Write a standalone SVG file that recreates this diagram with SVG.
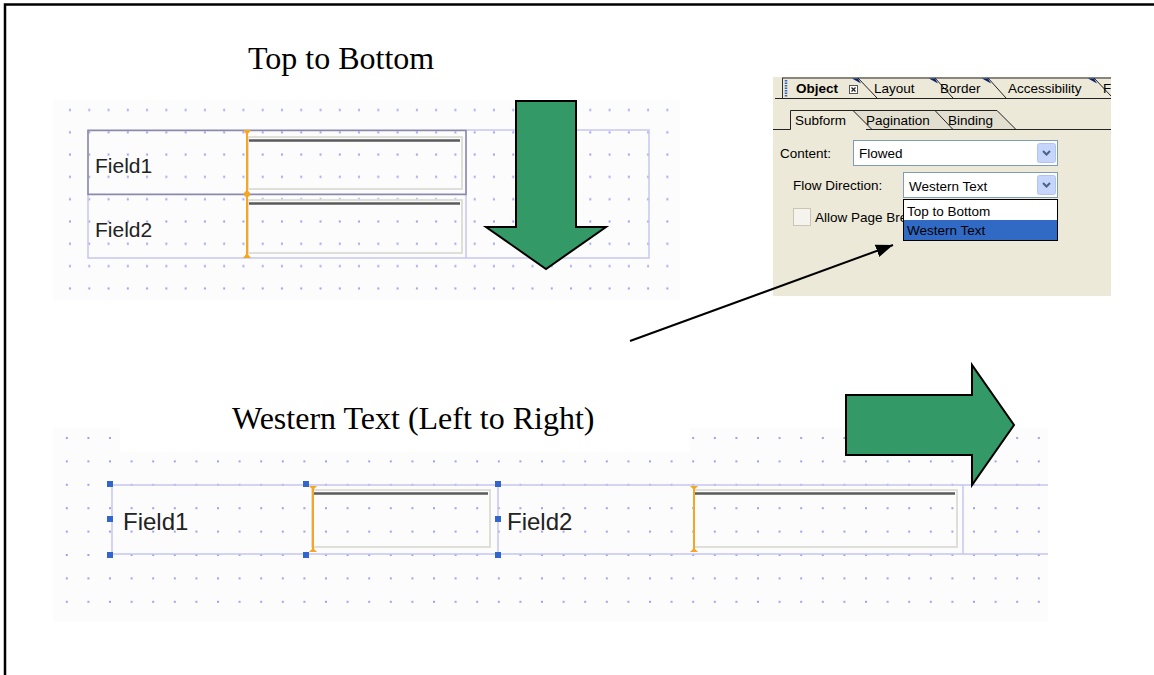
<svg xmlns="http://www.w3.org/2000/svg" width="1154" height="675" viewBox="0 0 1154 675">
<style>
  .title { font-family: "Liberation Serif", "Times New Roman", serif; font-size: 32px; fill: #000; }
  .fld { font-family: "Liberation Sans", Arial, sans-serif; fill: #222; }
  .ui { font-family: "Liberation Sans", Tahoma, sans-serif; font-size: 13.5px; fill: #000; }
  .lav { fill: none; stroke: #c6c6f2; stroke-width: 1.5; }
  .inbox { fill: none; stroke: #dcdcd6; stroke-width: 1.8; }
  .intop { stroke: #5a5a5a; stroke-width: 2.5; }
  .big-arrow { fill: #339966; stroke: #000; stroke-width: 2; stroke-linejoin: miter; }
  .orange { stroke: #f5a623; stroke-width: 2; }
  .orange-fill { fill: #f5a623; }
  .handle { fill: #3366cc; }
  .tab { fill: none; stroke: #222; stroke-width: 1; }
  .drop { fill: #fff; stroke: #7f9db9; stroke-width: 1; }
  .dbtn { fill: #c6d5fb; stroke: #b2c4ee; stroke-width: 1; }
  .chev { fill: none; stroke: #4d6185; stroke-width: 2; }
</style>
<defs>
  <pattern id="dotsTop" patternUnits="userSpaceOnUse" x="60.4" y="98.85" width="19.27" height="22.3">
    <rect x="8.6" y="10.15" width="2" height="2" fill="#a0a0f2"/>
  </pattern>
  <pattern id="dotsBottom" patternUnits="userSpaceOnUse" x="56" y="426.3" width="21.6" height="23.4">
    <rect x="9.8" y="10.7" width="2" height="2" fill="#a0a0f2"/>
  </pattern>
  <marker id="arrowHead" markerWidth="17" markerHeight="13" refX="17" refY="6.5" orient="auto" markerUnits="userSpaceOnUse">
    <path d="M0,0 L17,6.5 L0,13 z" fill="#000"/>
  </marker>
  <clipPath id="panelClip"><rect x="773" y="77" width="338" height="219"/></clipPath>
</defs>

<!-- page frame -->
<path d="M5,675 V4.5 H1154" fill="none" stroke="#000" stroke-width="2.5"/>

<!-- upper form: top-to-bottom flow -->
<g id="top-form">
  <rect x="53" y="100" width="627" height="200" fill="#fcfcfc"/>
  <rect x="56" y="100" width="624" height="200" fill="url(#dotsTop)"/>
  <rect class="lav" x="88" y="130" width="561" height="128"/>
  <line class="lav" x1="466" y1="130" x2="466" y2="258"/>
  <line class="lav" x1="88" y1="194" x2="466" y2="194"/>
  <rect x="88" y="130.5" width="378" height="64" fill="none" stroke="#8a8aa6" stroke-width="1.5"/>
  <rect class="inbox" x="248" y="137" width="214" height="52"/>
  <line class="intop" x1="249" y1="140.5" x2="460" y2="140.5"/>
  <rect class="inbox" x="248" y="200" width="214" height="53"/>
  <line class="intop" x1="249" y1="203.5" x2="460" y2="203.5"/>
  <line class="orange" x1="247" y1="130" x2="247" y2="258"/>
  <path class="orange-fill" d="M243,130 h8 l-4,5 z M243,258 h8 l-4,-5 z"/>
  <circle class="orange-fill" cx="247" cy="194" r="3"/>
  <text class="fld" x="95" y="173" font-size="21">Field1</text>
  <text class="fld" x="95" y="237" font-size="21">Field2</text>
</g>

<!-- lower form: western text (left to right) flow -->
<g id="bottom-form">
  <rect x="53" y="428" width="995" height="194" fill="#fcfcfc"/>
  <rect x="56" y="428" width="992" height="194" fill="url(#dotsBottom)"/>
  <rect x="120" y="400" width="570" height="52" fill="#fff"/>
  <line class="lav" x1="110" y1="485" x2="1048" y2="485"/>
  <line class="lav" x1="110" y1="554" x2="1048" y2="554"/>
  <line class="lav" x1="112" y1="485" x2="112" y2="554"/>
  <line class="lav" x1="498" y1="485" x2="498" y2="554"/>
  <line class="lav" x1="963" y1="485" x2="963" y2="554"/>
  <rect class="inbox" x="312" y="490" width="178" height="57"/>
  <line class="intop" x1="313" y1="493.5" x2="488" y2="493.5"/>
  <rect class="inbox" x="694" y="490" width="263" height="57"/>
  <line class="intop" x1="695" y1="493.5" x2="955" y2="493.5"/>
  <line class="orange" x1="313" y1="486" x2="313" y2="552"/>
  <path class="orange-fill" d="M309,486 h8 l-4,4 z M309,552 h8 l-4,-4 z"/>
  <line class="orange" x1="694" y1="486" x2="694" y2="552"/>
  <path class="orange-fill" d="M690,486 h8 l-4,4 z M690,552 h8 l-4,-4 z"/>
  <rect class="handle" x="107" y="481" width="6" height="6"/>
  <rect class="handle" x="303" y="481" width="6" height="6"/>
  <rect class="handle" x="495" y="481" width="6" height="6"/>
  <rect class="handle" x="107" y="516" width="6" height="6"/>
  <rect class="handle" x="495" y="516" width="6" height="6"/>
  <rect class="handle" x="107" y="552" width="6" height="6"/>
  <rect class="handle" x="303" y="552" width="6" height="6"/>
  <rect class="handle" x="495" y="552" width="6" height="6"/>
  <text class="fld" x="123" y="530" font-size="24">Field1</text>
  <text class="fld" x="507" y="530" font-size="24">Field2</text>
</g>

<!-- headings -->
<g id="title-top"><text class="title" x="248" y="69">Top to Bottom</text></g>
<g id="title-bottom"><text class="title" x="232" y="429">Western Text (Left to Right)</text></g>

<!-- direction arrows -->
<g id="arrow-down">
  <polygon class="big-arrow" points="516,101 576,101 576,227 606,227 546,269 486,227 516,227"/>
</g>
<g id="arrow-right">
  <polygon class="big-arrow" points="846,395 972,395 972,365 1014,425 972,485 972,455 846,455"/>
</g>

<!-- property palette -->
<g id="object-palette" clip-path="url(#panelClip)">
  <rect x="773" y="77" width="338" height="219" fill="#ece9d8"/>
  <!-- top tab strip -->
  <line class="tab" x1="782" y1="78" x2="1111" y2="78"/>
  <line class="tab" x1="775" y1="98.5" x2="1111" y2="98.5"/>
  <line x1="782.5" y1="78" x2="782.5" y2="98" stroke="#333" stroke-width="1"/>
  <line x1="786" y1="80" x2="786" y2="97" stroke="#3a62b8" stroke-width="2.5" stroke-dasharray="1.5 1"/>
  <path class="tab" d="M858,78 L877,98 M935,78 L953,98 M988,78 L1006,98 M1094,78 L1111,96"/>
  <path fill="#0a246a" d="M852,78.5 h6 l3,5 z M929,78.5 h6 l3,5 z M982,78.5 h6 l3,5 z M1088,78.5 h6 l3,5 z"/>
  <text class="ui" x="796" y="93" font-weight="bold" font-size="14.5">Object</text>
  <rect x="849.5" y="85.5" width="8" height="8" fill="#fff" stroke="#555" stroke-width="1"/>
  <path d="M851.5,87.5 l4,4 M855.5,87.5 l-4,4" stroke="#222" stroke-width="1.3"/>
  <text class="ui" x="874" y="93">Layout</text>
  <text class="ui" x="940" y="93">Border</text>
  <text class="ui" x="1008" y="93">Accessibility</text>
  <text class="ui" x="1103" y="93">F</text>
  <!-- second tab strip -->
  <polygon points="853,110.5 997,110.5 1016,129.5 870,129.5" fill="#e2dfd0"/>
  <path class="tab" d="M773,129.5 H790.5 V110.5 H853 M853,110.5 H997 L1016,129.5 M853,110.5 L872,129.5 M935,110.5 L953,129.5 M866,129.5 H1111"/>
  <text class="ui" x="795" y="125">Subform</text>
  <text class="ui" x="866" y="125">Pagination</text>
  <text class="ui" x="948" y="125">Binding</text>
  <!-- content -->
  <text class="ui" x="780" y="158">Content:</text>
  <rect class="drop" x="853.5" y="140.5" width="204" height="25"/>
  <text class="ui" x="859" y="158">Flowed</text>
  <rect class="dbtn" x="1037.5" y="143.5" width="18" height="19" rx="2"/>
  <path class="chev" d="M1043,151 l3.5,3.5 l3.5,-3.5"/>
  <!-- flow direction -->
  <text class="ui" x="793" y="190">Flow Direction:</text>
  <rect class="drop" x="903.5" y="172.5" width="154" height="25"/>
  <text class="ui" x="909" y="191">Western Text</text>
  <rect class="dbtn" x="1037.5" y="175.5" width="18" height="19" rx="2"/>
  <path class="chev" d="M1043,183 l3.5,3.5 l3.5,-3.5"/>
  <!-- allow page breaks -->
  <rect x="793.5" y="208.5" width="17" height="17" fill="#f4f3ee" stroke="#c9c6b6" stroke-width="1"/>
  <text class="ui" x="815" y="222" fill="#aca899">Allow Page Bre</text>
  <!-- open list -->
  <rect x="903.5" y="199.5" width="154" height="41" fill="#fff" stroke="#000" stroke-width="1"/>
  <rect x="904" y="220" width="153" height="20" fill="#316ac5"/>
  <text class="ui" x="907" y="216">Top to Bottom</text>
  <text class="ui" x="907" y="235" fill="#fff">Western Text</text>
</g>

<!-- connector -->
<g id="connectors">
  <line x1="630" y1="341" x2="893" y2="245" stroke="#000" stroke-width="2" marker-end="url(#arrowHead)"/>
</g>
</svg>
